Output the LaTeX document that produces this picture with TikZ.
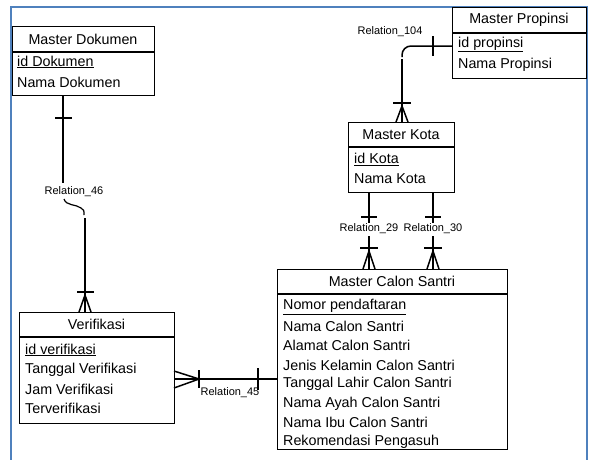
\documentclass[tikz,border=0pt]{standalone}
\usepackage{fontspec}
\setmainfont{Liberation Sans}
\usetikzlibrary{calc}
\begin{document}
\begin{tikzpicture}[x=1pt,y=-1pt,
  entbox/.style={draw=black,line width=1.2pt,fill=white,rectangle,inner sep=0pt,anchor=north west},
  hdr/.style={line width=1.2pt},
  title/.style={font=\fontsize{14.3}{16}\selectfont,inner sep=0pt,anchor=center},
  attr/.style={font=\fontsize{14.3}{16}\selectfont,inner sep=0pt,anchor=west},
  rel/.style={line width=1.5pt},
  rlabel/.style={font=\fontsize{11}{13}\selectfont,inner sep=1pt,anchor=center},
  frame/.style={draw={rgb,255:red,79;green,129;blue,189},line width=2pt}]
\useasboundingbox (0,0) rectangle (590,459);
\fill[white] (0,0) rectangle (590,459);
% page frame
\draw[frame] (10.5,470) -- (10.5,7) -- (587,7) -- (587,470);

% ---------------- entities ----------------
% Master Dokumen
\node[entbox,minimum width=142pt,minimum height=69pt] (dok) at (12,26) {};
\draw[hdr] (12,52) -- (154,52);
\node[title] (dokT) at (83,39) {Master Dokumen};
\node[attr] (dok1) at (17,62) {\underline{id Dokumen}};
\node[attr] (dok2) at (17,82) {Nama Dokumen};

% Verifikasi
\node[entbox,minimum width=155pt,minimum height=111pt] (ver) at (19,312) {};
\draw[hdr] (19,337) -- (174,337);
\node[title] (verT) at (96.5,324) {Verifikasi};
\node[attr] (ver1) at (25,350) {\underline{id verifikasi}};
\node[attr] (ver2) at (25,369.5) {Tanggal Verifikasi};
\node[attr] (ver3) at (25,389) {Jam Verifikasi};
\node[attr] (ver4) at (25,408.5) {Terverifikasi};

% Master Calon Santri
\node[entbox,minimum width=230pt,minimum height=180pt] (cs) at (277,269) {};
\draw[hdr] (277,294) -- (507,294);
\node[title] (csT) at (392,281.5) {Master Calon Santri};
\node[attr] (cs1) at (283,307) {\underline{Nomor pendaftaran}};
\node[attr] (cs2) at (283,326.3) {Nama Calon Santri};
\node[attr] (cs3) at (283,345.6) {Alamat Calon Santri};
\node[attr] (cs4) at (283,364.9) {Jenis Kelamin Calon Santri};
\node[attr] (cs5) at (283,384.2) {Tanggal Lahir Calon Santri};
\node[attr] (cs6) at (283,403.5) {Nama Ayah Calon Santri};
\node[attr] (cs7) at (283,422.8) {Nama Ibu Calon Santri};
\node[attr] (cs8) at (283,442.1) {Rekomendasi Pengasuh};

% Master Kota
\node[entbox,minimum width=106pt,minimum height=70pt] (kota) at (348,122) {};
\draw[hdr] (348,147) -- (454,147);
\node[title] (kotaT) at (401,135) {Master Kota};
\node[attr] (kota1) at (354,159.5) {\underline{id Kota}};
\node[attr] (kota2) at (354,179) {Nama Kota};

% Master Propinsi
\node[entbox,minimum width=134pt,minimum height=71pt] (prop) at (452,7) {};
\draw[hdr] (452,33) -- (586,33);
\node[title] (propT) at (519,20) {Master Propinsi};
\node[attr] (prop1) at (458,44.5) {\underline{id propinsi}};
\node[attr] (prop2) at (458,64.5) {Nama Propinsi};

% ---------------- relationships ----------------
% Relation_46 : Master Dokumen -> Verifikasi
\coordinate (r46a) at (dok.south -| 63,0);
\coordinate (r46b) at (63,183);
\coordinate (r46c) at (85,218);
\coordinate (r46d) at (ver.north -| 85,0);
\draw[rel] (r46a) -- (r46b);
\draw[rel] (55,118) -- (72,118);
\node[rlabel] (l46) at (74,192) {Relation\_46};
\draw[rel,line width=1.2pt] (64,199) .. controls (66,206) and (76,204) .. (81,208) .. controls (84,210) .. (84,215);
\draw[rel] (r46c) -- (r46d);
\draw[rel] (77,292) -- (94,292);
\draw[rel] (79,312) -- (85,295) -- (91,312);

% Relation_45 : Master Calon Santri -> Verifikasi
\coordinate (r45a) at (ver.east |- 0,379);
\coordinate (r45b) at (cs.west |- 0,379);
\draw[rel] (r45a) -- (r45b);
\draw[rel] (174,371) -- (199,379) -- (174,388);
\draw[rel] (199,370) -- (199,388);
\draw[rel] (258,368) -- (258,390);
\node[rlabel] (l45) at (230,393) {Relation\_45};

% Relation_29 and Relation_30 : Master Kota -> Master Calon Santri
\foreach \xx in {369,433}{
  \draw[rel] (kota.south -| \xx,0) -- (\xx,223);
  \draw[rel] (\xx-8,217) -- (\xx+8,217);
  \draw[rel] (\xx,236) -- (cs.north -| \xx,0);
  \draw[rel] (\xx-9,248) -- (\xx+9,248);
  \draw[rel] (\xx-6,269) -- (\xx,251) -- (\xx+6,269);
}
\node[rlabel] (l29) at (369,229) {Relation\_29};
\node[rlabel] (l30) at (433,229) {Relation\_30};

% Relation_104 : Master Propinsi -> Master Kota
\draw[rel,rounded corners=9pt] (prop.west |- 0,46) -- (402,46) -- (402,57);
\draw[rel] (402,59) -- (kota.north -| 402,0);
\draw[rel] (433,36) -- (433,56);
\draw[rel] (393,103) -- (411,103);
\draw[rel] (396,122) -- (402,106) -- (408,122);
\node[rlabel] (l104) at (390,32) {Relation\_104};
\end{tikzpicture}
\end{document}
